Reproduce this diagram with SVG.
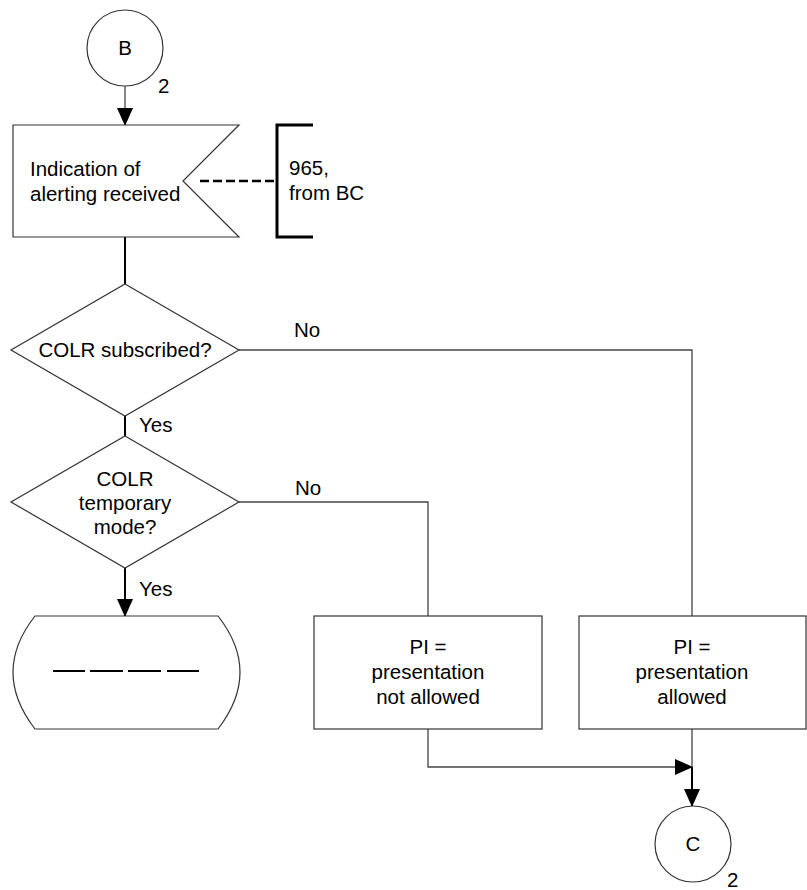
<svg xmlns="http://www.w3.org/2000/svg" width="807" height="890" viewBox="0 0 807 890">
<style>
text{font-family:"Liberation Sans",Arial,sans-serif;font-size:20.5px;fill:#000}
.c{text-anchor:middle}
.shape{fill:#fff;stroke:#333;stroke-width:1.2}
.ln{fill:none;stroke:#444;stroke-width:1.3}
.bk{fill:none;stroke:#000;stroke-width:2}
</style>
<defs>
<marker id="ah" markerWidth="18" markerHeight="16" refX="17" refY="8" orient="auto" markerUnits="userSpaceOnUse">
<path d="M0,0 L18,8 L0,16 Z" fill="#000"/>
</marker>
</defs>
<g id="connectors">
<line class="ln" x1="125" y1="86" x2="125" y2="125" marker-end="url(#ah)"/>
<line class="bk" x1="125" y1="237" x2="125" y2="284"/>
<polyline class="ln" points="239,350 692,350 692,616"/>
<line class="bk" x1="125" y1="416" x2="125" y2="436"/>
<polyline class="ln" points="239,502 428,502 428,616"/>
<line class="bk" x1="125" y1="568" x2="125" y2="616" marker-end="url(#ah)"/>
<polyline class="ln" points="428,729 428,767 692,767" marker-end="url(#ah)"/>
<line class="ln" x1="692" y1="729" x2="692" y2="767"/>
<line class="bk" x1="692" y1="767" x2="692" y2="806" marker-end="url(#ah)"/>
<line x1="200" y1="181" x2="277" y2="181" stroke="#000" stroke-width="2.5" stroke-dasharray="9,4"/>
</g>
<g id="connB">
<circle class="shape" cx="125" cy="48" r="38"/>
<text class="c" x="125" y="55">B</text>
<text x="158" y="93">2</text>
</g>
<g id="alerting">
<polygon class="shape" points="13,125 239,125 183,181 239,237 13,237"/>
<text x="30" y="176">Indication of</text>
<text x="30" y="201">alerting received</text>
</g>
<g id="comment">
<polyline fill="none" stroke="#000" stroke-width="3" points="313,125 277,125 277,237 313,237"/>
<text x="289" y="175">965,</text>
<text x="289" y="200">from BC</text>
</g>
<g id="dec1">
<polygon class="shape" points="125,284 239,350 125,416 11,350"/>
<text class="c" x="125" y="357">COLR subscribed?</text>
<text x="294" y="337">No</text>
<text x="139" y="432">Yes</text>
</g>
<g id="dec2">
<polygon class="shape" points="125,436 239,502 125,568 11,502"/>
<text class="c" x="125" y="486">COLR</text>
<text class="c" x="125" y="510">temporary</text>
<text class="c" x="125" y="534">mode?</text>
<text x="295" y="495">No</text>
<text x="139" y="596">Yes</text>
</g>
<g id="terminal">
<path class="shape" d="M35,616 L218,616 Q262,672 218,729 L35,729 Q-9,672 35,616 Z"/>
<path d="M53,671 H85 M90,671 H123 M128,671 H161 M167,671 H199" stroke="#000" stroke-width="2" fill="none"/>
</g>
<g id="notAllowed">
<rect class="shape" x="314" y="616" width="228" height="113"/>
<text class="c" x="428" y="654">PI =</text>
<text class="c" x="428" y="679">presentation</text>
<text class="c" x="428" y="704">not allowed</text>
</g>
<g id="allowed">
<rect class="shape" x="579" y="616" width="227" height="113"/>
<text class="c" x="692" y="654">PI =</text>
<text class="c" x="692" y="679">presentation</text>
<text class="c" x="692" y="704">allowed</text>
</g>
<g id="connC">
<circle class="shape" cx="693" cy="844" r="38"/>
<text class="c" x="693" y="851">C</text>
<text x="727" y="887">2</text>
</g>
</svg>
